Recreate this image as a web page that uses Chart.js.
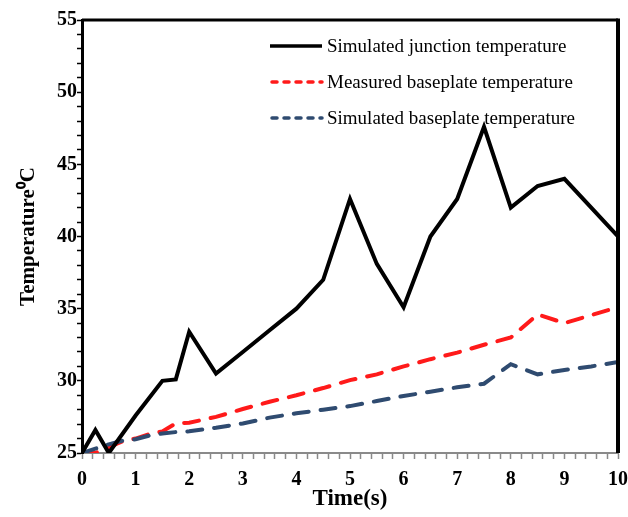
<!DOCTYPE html>
<html>
<head>
<meta charset="utf-8">
<script src="https://cdn.jsdelivr.net/npm/chart.js@4.4.0/dist/chart.umd.min.js"></script>
<style>
  html, body { margin: 0; padding: 0; background: #fff; }
  #wrap { width: 628px; height: 517px; }
</style>
</head>
<body>
<div id="wrap"><canvas id="myChart"></canvas></div>
<script>
(function () {
    'use strict';

    // data
    const timeJunction = [0, 0.25, 0.5, 1, 1.5, 1.75, 2, 2.5, 3, 3.5, 4, 4.5, 5, 5.5, 6, 6.5, 7, 7.5, 8, 8.5, 9, 10];
    const junctionTemp = [25, 26.6, 25.0, 27.6, 30.0, 30.1, 33.4, 30.5, 32.0, 33.5, 35.0, 37.0, 42.6, 38.1, 35.1, 40.0, 42.6, 47.6, 42.0, 43.5, 44.0, 40.0];

    const timeBase = [0, 0.25, 0.5, 0.75, 1, 1.25, 1.5, 1.75, 2, 2.5, 3, 3.5, 4, 4.5, 5, 5.5, 6, 6.5, 7, 7.5, 8, 8.5, 9, 9.5, 10];
    const measuredBase = [25, 25.0, 25.4, 25.8, 26.0, 26.3, 26.5, 27.05, 27.1, 27.5, 28.05, 28.55, 29.0, 29.5, 30.05, 30.45, 31.0, 31.5, 31.95, 32.5, 33.0, 34.6, 34.0, 34.55, 35.1];
    const simulatedBase = [25, 25.3, 25.6, 25.85, 25.95, 26.2, 26.35, 26.45, 26.5, 26.75, 27.05, 27.45, 27.75, 28.0, 28.25, 28.6, 28.95, 29.25, 29.55, 29.8, 31.15, 30.45, 30.75, 31.0, 31.3];

    const seriesNames = ['Simulated junction temperature', 'Measured baseplate temperature', 'Simulated baseplate temperature'];
    const yTickLabels = [25, 30, 35, 40, 45, 50, 55];
    const xTickLabels = [0, 1, 2, 3, 4, 5, 6, 7, 8, 9, 10];

    function pairs(xs, ys) {
        return xs.map(function (x, i) { return { x: x, y: ys[i] }; });
    }

    const serif = "'Liberation Serif', 'Times New Roman', serif";

    // frame on top/right + legend inside the plot
    const framePlugin = {
        id: 'frame',
        afterDatasetsDraw: function (chart) {
            const c = chart.ctx, a = chart.chartArea;
            c.save();
            c.strokeStyle = '#000';
            c.lineWidth = 3;
            c.beginPath();
            c.moveTo(a.left, a.top);
            c.lineTo(a.right, a.top);
            c.stroke();
            c.lineWidth = 4;
            c.beginPath();
            c.moveTo(a.right, a.top - 1.5);
            c.lineTo(a.right, a.bottom);
            c.stroke();

            // legend
            const rows = [46, 82, 118];
            c.font = '19px ' + serif;
            c.textBaseline = 'middle';
            chart.data.datasets.forEach(function (ds, i) {
                const y = rows[i];
                c.strokeStyle = ds.borderColor;
                c.lineWidth = 3.5;
                c.lineCap = ds.borderDash.length ? 'round' : 'butt';
                c.setLineDash(ds.borderDash.length ? [5, 7] : []);
                c.beginPath();
                c.moveTo(ds.borderDash.length ? 272 : 270, y);
                c.lineTo(322, y);
                c.stroke();
                c.setLineDash([]);
                c.fillStyle = '#000';
                c.fillText(ds.label, 327, y + 1);
            });
            c.restore();
        }
    };

    const ctx = document.getElementById('myChart').getContext('2d');
    const chart = new Chart(ctx, {
        type: 'line',
        data: {
            datasets: [{
                label: seriesNames[0],
                data: pairs(timeJunction, junctionTemp),
                borderColor: '#000000',
                borderWidth: 4,
                borderDash: [],
                pointRadius: 0,
                tension: 0,
                order: 0
            }, {
                label: seriesNames[1],
                data: pairs(timeBase, measuredBase),
                borderColor: '#ff1a1a',
                borderWidth: 4,
                borderDash: [15, 12],
                borderCapStyle: 'round',
                pointRadius: 0,
                tension: 0,
                order: 2
            }, {
                label: seriesNames[2],
                data: pairs(timeBase, simulatedBase),
                borderColor: '#2f4b70',
                borderWidth: 4,
                borderDash: [15, 12],
                borderCapStyle: 'round',
                pointRadius: 0,
                tension: 0,
                order: 1
            }]
        },
        options: {
            responsive: true,
            maintainAspectRatio: false,
            animation: false,
            layout: { padding: { top: 20, right: 0, left: 0, bottom: 0 } },
            plugins: {
                legend: { display: false },
                tooltip: { enabled: false }
            },
            scales: {
                x: {
                    type: 'linear',
                    min: 0,
                    max: 10,
                    afterFit: function (s) {
                        s.height = 64;
                        s.paddingLeft = 0;
                        s.paddingRight = 10;
                    },
                    border: { display: true, color: '#8a8a8a', width: 2 },
                    grid: { drawOnChartArea: false, drawTicks: true, tickLength: 6, color: '#8a8a8a', tickWidth: 1.5 },
                    ticks: {
                        stepSize: 0.2,
                        autoSkip: false,
                        maxRotation: 0,
                        padding: 9,
                        color: '#000',
                        font: { family: serif, size: 20, weight: 'bold' },
                        callback: function (v) {
                            const r = Math.round(v);
                            return (Math.abs(v - r) < 1e-6 && xTickLabels.indexOf(r) >= 0) ? String(r) : '';
                        }
                    },
                    title: {
                        display: true,
                        text: 'Time(s)',
                        color: '#000',
                        padding: { top: 0, bottom: 4 },
                        font: { family: serif, size: 23, weight: 'bold' }
                    }
                },
                y: {
                    min: 25,
                    max: 55,
                    afterFit: function (s) { s.width = 82; },
                    border: { display: true, color: '#000', width: 3 },
                    grid: { drawOnChartArea: false, drawTicks: true, tickLength: 5, color: '#000', tickWidth: 1.5 },
                    ticks: {
                        stepSize: 1,
                        autoSkip: false,
                        padding: 0,
                        color: '#000',
                        font: { family: serif, size: 20, weight: 'bold' },
                        callback: function (v) {
                            return yTickLabels.indexOf(v) >= 0 ? String(v) : '';
                        }
                    },
                    title: {
                        display: true,
                        text: 'Temperature\u2070C',
                        color: '#000',
                        padding: { top: 16, bottom: 0 },
                        font: { family: serif, size: 21, weight: 'bold' }
                    }
                }
            }
        },
        plugins: [framePlugin]
    });
})();
</script>
</body>
</html>
